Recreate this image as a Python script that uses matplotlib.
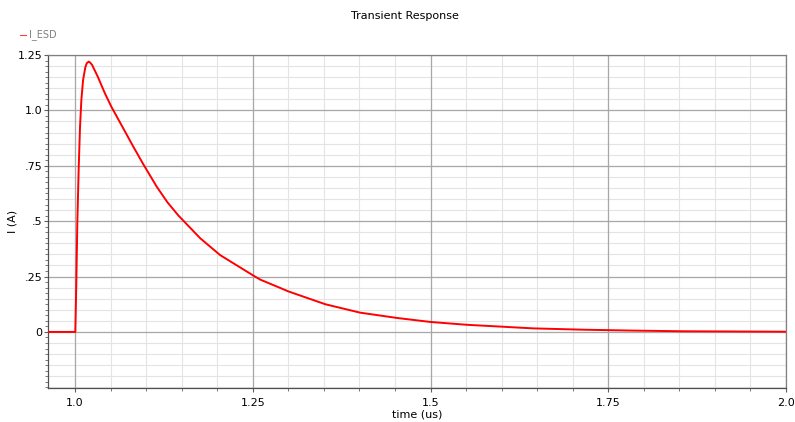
import numpy as np
import matplotlib
matplotlib.use("Agg")
import matplotlib.pyplot as plt
from matplotlib.ticker import MultipleLocator

# values (time in us, current in A)
time_us = [0.962, 0.99, 1.0004, 1.0018, 1.0032, 1.0052, 1.007, 1.0089, 1.0113,
           1.0145, 1.0165, 1.0193, 1.0215, 1.024, 1.032, 1.042, 1.051, 1.063,
           1.075, 1.082, 1.096, 1.115, 1.13, 1.1455, 1.176, 1.204, 1.251,
           1.2606, 1.289, 1.300, 1.352, 1.401, 1.453, 1.500, 1.552, 1.599,
           1.627, 1.645, 1.716, 1.786, 1.856, 1.93, 2.0]
i_esd = [0.0, 0.0, 0.0, 0.22, 0.49, 0.745, 0.925, 1.047, 1.137,
         1.195, 1.213, 1.22, 1.215, 1.205, 1.152, 1.077, 1.017, 0.947,
         0.877, 0.836, 0.757, 0.655, 0.585, 0.525, 0.423, 0.347, 0.254,
         0.236, 0.198, 0.183, 0.125, 0.087, 0.063, 0.045, 0.032, 0.024,
         0.019, 0.016, 0.010, 0.006, 0.003, 0.002, 0.001]

x_ticks = [1.0, 1.25, 1.5, 1.75, 2.0]
x_labels = ["1.0", "1.25", "1.5", "1.75", "2.0"]
y_ticks = [0, 0.25, 0.5, 0.75, 1.0, 1.25]
y_labels = ["0", ".25", ".5", ".75", "1.0", "1.25"]

fig = plt.figure(figsize=(7.95, 4.22), dpi=100)
ax = fig.add_axes([0.0604, 0.0806, 0.9283, 0.7891])

ax.set_xlim(0.962, 2.0)
ax.set_ylim(-0.253, 1.25)

# minor grid (every 0.05) then major grid
for v in np.arange(-0.25, 1.26, 0.05):
    ax.axhline(v, color="#e4e4e4", lw=0.8, zorder=0)
for v in np.arange(0.95, 2.001, 0.05):
    ax.axvline(v, color="#e4e4e4", lw=0.8, zorder=0)
for v in y_ticks:
    ax.axhline(v, color="#a8a8a8", lw=0.9, zorder=0.5)
for v in x_ticks:
    ax.axvline(v, color="#a8a8a8", lw=0.9, zorder=0.5)

ax.plot(time_us, i_esd, color="#ff0000", lw=1.4, zorder=3)

ax.set_xticks(x_ticks)
ax.set_xticklabels(x_labels)
ax.set_yticks(y_ticks)
ax.set_yticklabels(y_labels)
ax.xaxis.set_minor_locator(MultipleLocator(0.05))
ax.yaxis.set_minor_locator(MultipleLocator(0.025))
ax.tick_params(which="major", length=3, width=0.8, color="#606060",
               labelsize=8)
ax.tick_params(axis="y", which="major", pad=1)
ax.tick_params(axis="x", which="major", pad=4)
ax.tick_params(which="minor", length=2, width=0.6, color="#606060")

for s in ax.spines.values():
    s.set_color("#808080")
    s.set_linewidth(0.9)
ax.spines["left"].set_color("#505050")
ax.spines["bottom"].set_color("#505050")

ax.set_xlabel("time (us)", fontsize=8, labelpad=1)
ax.set_ylabel("I (A)", fontsize=8)
ax.yaxis.set_label_coords(-0.042, 0.5)
fig.text(0.509, 0.962, "Transient Response", ha="center", va="center", fontsize=8)

# legend entry in the top left corner
fig.lines.append(plt.Line2D([0.025, 0.033], [0.917, 0.917], color="#ff4040",
                            lw=0.8, transform=fig.transFigure))
fig.text(0.036, 0.917, "I_ESD", ha="left", va="center", fontsize=7,
         color="#808080")

fig.savefig("out.png", dpi=100)
